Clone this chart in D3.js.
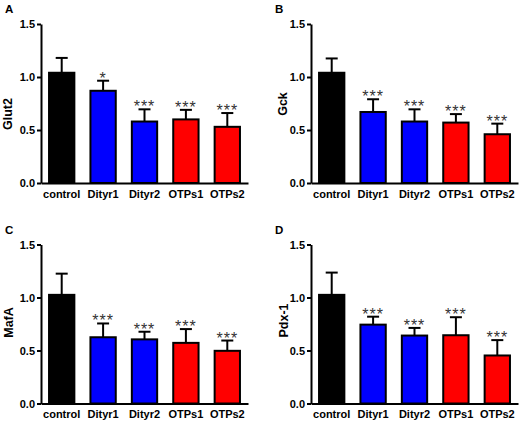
<!DOCTYPE html>
<html>
<head>
<meta charset="utf-8">
<script src="https://cdn.jsdelivr.net/npm/d3@7"></script>
<style>
  html, body { margin: 0; padding: 0; background: #fff; }
  svg { display: block; font-family: "Liberation Sans", Arial, sans-serif; }
</style>
</head>
<body>
<svg id="chart" width="524" height="424"></svg>
<script>
// ---- data ----
const categories = ["control", "Dityr1", "Dityr2", "OTPs1", "OTPs2"];
const barColors = ["#000000", "#0000ff", "#0000ff", "#ff0000", "#ff0000"];
const yTicks = [0, 0.5, 1.0, 1.5];

const glut2Mean = [1.04, 0.87, 0.58, 0.60, 0.53];
const glut2Err  = [0.14, 0.095, 0.115, 0.09, 0.13];
const glut2Sig  = ["", "*", "***", "***", "***"];

const gckMean = [1.04, 0.67, 0.58, 0.57, 0.46];
const gckErr  = [0.135, 0.12, 0.115, 0.08, 0.10];
const gckSig  = ["", "***", "***", "***", "***"];

const mafaMean = [1.025, 0.625, 0.605, 0.572, 0.497];
const mafaErr  = [0.20, 0.13, 0.072, 0.13, 0.097];
const mafaSig  = ["", "***", "***", "***", "***"];

const pdxMean = [1.025, 0.744, 0.641, 0.644, 0.453];
const pdxErr  = [0.21, 0.075, 0.072, 0.17, 0.145];
const pdxSig  = ["", "***", "***", "***", "***"];

// ---- layout ----
const panels = [
  { letter: "A", ylabel: "Glut2", mean: glut2Mean, err: glut2Err, sig: glut2Sig, ox: 0,   oy: 0,     lx: 7,  ly: 114 },
  { letter: "B", ylabel: "Gck",   mean: gckMean,   err: gckErr,   sig: gckSig,   ox: 270, oy: 0,     lx: 12, ly: 104 },
  { letter: "C", ylabel: "MafA",  mean: mafaMean,  err: mafaErr,  sig: mafaSig,  ox: 0,   oy: 220.5, lx: 8,  ly: 102 },
  { letter: "D", ylabel: "Pdx-1", mean: pdxMean,   err: pdxErr,   sig: pdxSig,   ox: 270, oy: 220.5, lx: 13, ly: 100 }
];

const axisX = 41, plotTop = 24, plotBottom = 183, plotRight = 248;

const svg = d3.select("#chart");

const x = d3.scaleBand().domain(categories).range([axisX, plotRight])
  .paddingInner(0.34).paddingOuter(0.17);
const y = d3.scaleLinear().domain([0, 1.5]).range([plotBottom, plotTop]);

panels.forEach(p => {
  const g = svg.append("g").attr("transform", `translate(${p.ox},${p.oy})`);

  // panel letter
  g.append("text").attr("x", 5).attr("y", 13)
    .attr("font-size", 11.5).attr("font-weight", "bold").text(p.letter);

  // y label
  g.append("text")
    .attr("transform", `translate(${p.lx + 4.5},${p.ly}) rotate(-90)`)
    .attr("text-anchor", "middle")
    .attr("font-size", 12.5).attr("font-weight", "bold").text(p.ylabel);

  const data = categories.map((c, i) => ({ c, m: p.mean[i], e: p.err[i], s: p.sig[i], col: barColors[i] }));

  // error bars
  const eb = g.append("g");
  data.forEach(d => {
    const cx = x(d.c) + x.bandwidth() / 2;
    eb.append("line").attr("x1", cx).attr("x2", cx)
      .attr("y1", y(d.m)).attr("y2", y(d.m + d.e))
      .attr("stroke", "#000").attr("stroke-width", 2);
    eb.append("line").attr("x1", cx - 6).attr("x2", cx + 6)
      .attr("y1", y(d.m + d.e)).attr("y2", y(d.m + d.e))
      .attr("stroke", "#000").attr("stroke-width", 2);
  });

  // bars
  g.append("g").selectAll("rect").data(data).join("rect")
    .attr("x", d => x(d.c) + 1)
    .attr("width", x.bandwidth() - 2)
    .attr("y", d => y(d.m))
    .attr("height", d => y(0) - y(d.m))
    .attr("fill", d => d.col)
    .attr("stroke", "#000").attr("stroke-width", 2);

  // significance stars
  g.append("g").selectAll("text").data(data.filter(d => d.s)).join("text")
    .attr("x", d => x(d.c) + x.bandwidth() / 2)
    .attr("y", d => y(d.m + d.e) + 3)
    .attr("text-anchor", "middle")
    .attr("font-size", 16).attr("fill", "#333")
    .attr("letter-spacing", 1)
    .text(d => d.s);

  // y axis
  const ya = g.append("g").attr("transform", `translate(${axisX},0)`)
    .call(d3.axisLeft(y).tickValues(yTicks).tickFormat(d3.format(".1f"))
      .tickSize(4).tickSizeOuter(0).tickPadding(2));
  ya.select(".domain").attr("stroke-width", 2);
  ya.selectAll(".tick line").attr("stroke-width", 2);
  ya.selectAll("text").attr("font-size", 11).attr("font-weight", "bold")
    .attr("font-family", "Liberation Sans, Arial, sans-serif");

  // x axis
  const xa = g.append("g").attr("transform", `translate(0,${plotBottom})`)
    .call(d3.axisBottom(x).tickSize(0).tickSizeOuter(0).tickPadding(7));
  xa.select(".domain").attr("stroke-width", 2);
  xa.selectAll("text").attr("font-size", 11).attr("font-weight", "bold")
    .attr("font-family", "Liberation Sans, Arial, sans-serif");
});
</script>
</body>
</html>
